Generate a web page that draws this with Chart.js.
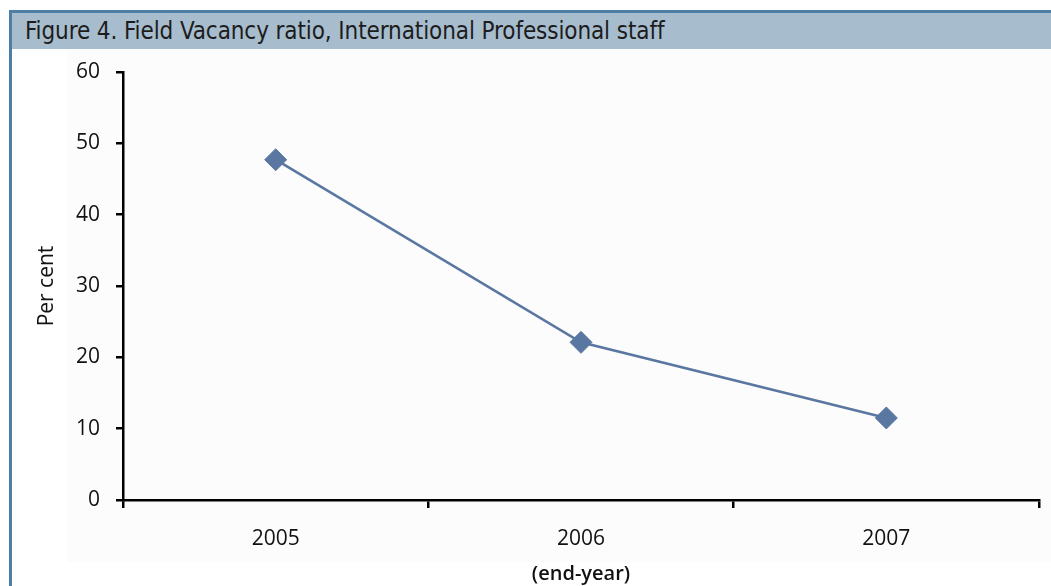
<!DOCTYPE html>
<html>
<head>
<meta charset="utf-8">
<script src="https://cdn.jsdelivr.net/npm/chart.js@4.4.1/dist/chart.umd.min.js"></script>
<style>
  html, body { margin: 0; padding: 0; background: #fff; overflow: hidden; }
  #frame {
    position: absolute; left: 9px; top: 10px; width: 1100px; height: 640px;
    border-left: 3px solid #4d7ea6; border-top: 3px solid #4d7ea6;
  }
  #titlebar {
    position: absolute; left: 12px; top: 13px; width: 1060px; height: 36px;
    background: #a7bdce; color: #1c1c1c;
    font: 24px "Liberation Sans Narrow", "DejaVu Sans Condensed", sans-serif;
    letter-spacing: -0.1px;
    line-height: 36px; padding-left: 13px; box-sizing: border-box;
  }
  #plotbg { position: absolute; left: 67px; top: 50px; width: 1000px; height: 512px; background: #fcfcfc; }
  #wrap { position: absolute; left: 0; top: 0; width: 1051px; height: 586px; }
</style>
</head>
<body>
<div id="frame"></div>
<div id="titlebar">Figure 4. Field Vacancy ratio, International Professional staff</div>
<div id="plotbg"></div>
<div id="wrap"><canvas id="chart"></canvas></div>
<script>
const years = ["2005", "2006", "2007"];
const vacancy = [47.7, 22.1, 11.5];
const yTicks = [0, 10, 20, 30, 40, 50, 60];

const lineColor = "#5a77a1";
const family = '"Open Sans", "Noto Sans", sans-serif';
const tickFont = { family, size: 21 };

new Chart(document.getElementById("chart"), {
  type: "line",
  data: {
    labels: years,
    datasets: [{
      label: "Field vacancy ratio",
      data: vacancy,
      borderColor: lineColor,
      backgroundColor: lineColor,
      borderWidth: 2.6,
      pointStyle: "rectRot",
      pointRadius: 11,
      pointBorderWidth: 1,
      tension: 0
    }]
  },
  options: {
    responsive: true,
    maintainAspectRatio: false,
    animation: false,
    layout: { padding: { top: 72, right: 11, left: 0, bottom: 0 } },
    plugins: { legend: { display: false }, tooltip: { enabled: false } },
    scales: {
      x: {
        offset: true,
        grid: { offset: true, drawOnChartArea: false, drawTicks: true, tickLength: 8, color: "#000", lineWidth: 2.5 },
        border: { color: "#000", width: 2.5 },
        ticks: { color: "#111", font: tickFont, padding: 18 },
        title: { display: true, text: "(end-year)", color: "#111",
                 font: { family, size: 20, weight: "600" },
                 padding: { top: 0, bottom: 0 } },
        afterFit: s => { s.height = 86; }
      },
      y: {
        min: 0, max: 60,
        afterBuildTicks: s => { s.ticks = yTicks.map(v => ({ value: v })); },
        grid: { drawOnChartArea: false, drawTicks: true, tickLength: 7, color: "#000", lineWidth: 2.5 },
        border: { color: "#000", width: 2.5 },
        ticks: { color: "#111", font: tickFont, padding: 16 },
        title: { display: true, text: "Per cent", color: "#111",
                 font: { family, size: 21, weight: "500" },
                 padding: { top: 34, bottom: 0 } },
        afterFit: s => { s.width = 123; }
      }
    }
  }
});
</script>
</body>
</html>
